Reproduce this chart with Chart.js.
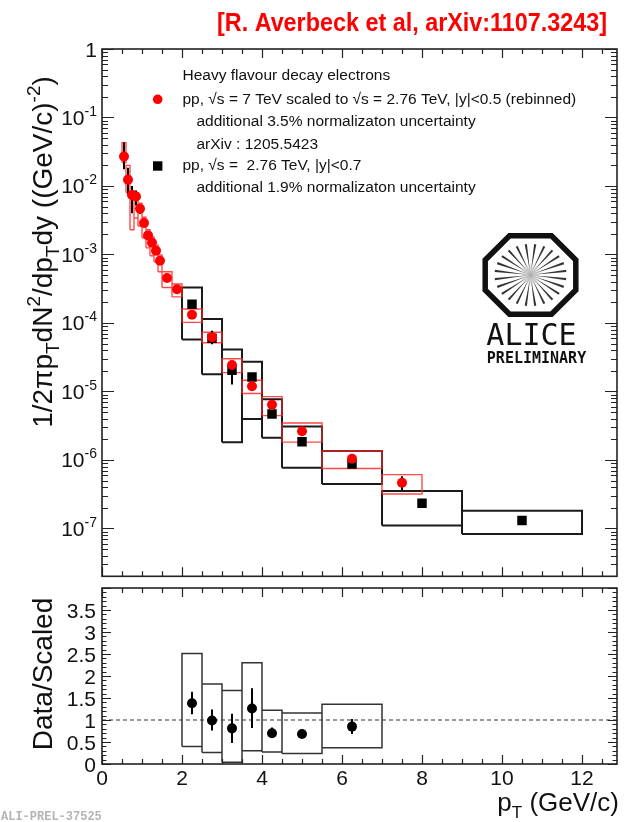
<!DOCTYPE html>
<html>
<head>
<meta charset="utf-8">
<script src="https://cdn.jsdelivr.net/npm/chart.js@4.4.1/dist/chart.umd.min.js"></script>
<style>
html, body { margin: 0; padding: 0; background: #fff; }
#wrap { position: relative; width: 624px; height: 822px; overflow: hidden; }
canvas { position: absolute; left: 0; }
#upper { top: 0; }
#lower { top: 583px; }
</style>
</head>
<body>
<div id="wrap">
  <canvas id="upper" width="624" height="583"></canvas>
  <canvas id="lower" width="624" height="239"></canvas>
</div>
<script>
// pp 7 TeV scaled to 2.76 TeV (red)
var ptRed    = [0.55,0.65,0.75,0.85,0.95,1.05,1.15,1.25,1.35,1.45,1.625,1.875,2.25,2.75,3.25,3.75,4.25,5.0,6.25,7.5];
var binLoRed = [0.5,0.6,0.7,0.8,0.9,1.0,1.1,1.2,1.3,1.4,1.5,1.75,2.0,2.5,3.0,3.5,4.0,4.5,5.5,7.0];
var binHiRed = [0.6,0.7,0.8,0.9,1.0,1.1,1.2,1.3,1.4,1.5,1.75,2.0,2.5,3.0,3.5,4.0,4.5,5.5,7.0,8.0];
var yieldRed = [2.69e-2,1.23e-2,7.4e-3,7.0e-3,4.64e-3,2.88e-3,1.90e-3,1.48e-3,1.13e-3,8.1e-4,4.54e-4,3.11e-4,1.32e-4,6.2e-5,2.44e-5,1.19e-5,6.4e-6,2.63e-6,1.04e-6,4.64e-7];
var statHiRed = [4.3e-2,1.85e-2,1.0e-2,8.6e-3,5.4e-3,3.3e-3,2.15e-3,1.65e-3,1.25e-3,8.9e-4,4.9e-4,3.3e-4,1.4e-4,6.6e-5,2.6e-5,1.27e-5,7.0e-6,2.85e-6,1.14e-6,5.8e-7];
var statLoRed = [1.76e-2,7.5e-3,4.0e-3,5.2e-3,3.9e-3,2.5e-3,1.68e-3,1.32e-3,1.02e-3,7.3e-4,4.2e-4,2.9e-4,1.24e-4,5.8e-5,2.3e-5,1.11e-5,5.8e-6,2.42e-6,9.5e-7,3.64e-7];
var sysHiRed = [4.3e-2,2.0e-2,8.5e-3,8.0e-3,5.6e-3,3.5e-3,2.3e-3,1.8e-3,1.37e-3,9.8e-4,5.6e-4,3.7e-4,1.60e-4,7.33e-5,3.0e-5,1.46e-5,8.4e-6,3.47e-6,1.35e-6,6.1e-7];
var sysLoRed = [2.2e-2,8.0e-3,2.3e-3,3.4e-3,2.6e-3,1.75e-3,1.25e-3,9.6e-4,7.8e-4,5.6e-4,3.3e-4,2.4e-4,1.02e-4,5.13e-5,1.88e-5,9.35e-6,4.44e-6,1.82e-6,7.5e-7,3.18e-7];

// pp 2.76 TeV (black)
var ptBlack    = [2.25,2.75,3.25,3.75,4.25,5.0,6.25,8.0,10.5];
var binLoBlack = [2.0,2.5,3.0,3.5,4.0,4.5,5.5,7.0,9.0];
var binHiBlack = [2.5,3.0,3.5,4.0,4.5,5.5,7.0,9.0,12.0];
var yieldBlack = [1.88e-4,6.0e-5,2.04e-5,1.63e-5,4.69e-6,1.84e-6,8.7e-7,2.33e-7,1.31e-7];
var statHiBlack = [2.0e-4,7.7e-5,2.46e-5,1.85e-5,5.0e-6,1.9e-6,9.0e-7,2.4e-7,1.35e-7];
var statLoBlack = [1.76e-4,4.9e-5,1.26e-5,1.45e-5,4.4e-6,1.78e-6,8.4e-7,2.26e-7,1.27e-7];
var sysHiBlack = [3.29e-4,1.14e-4,4.1e-5,2.72e-5,7.7e-6,3.08e-6,1.35e-6,3.52e-7,1.81e-7];
var sysLoBlack = [5.73e-5,1.78e-5,1.82e-6,3.97e-6,2.1e-6,7.7e-7,4.45e-7,1.10e-7,8.3e-8];

// ratio Data/Scaled
var ptRatio    = [2.25,2.75,3.25,3.75,4.25,5.0,6.25];
var binLoRatio = [2.0,2.5,3.0,3.5,4.0,4.5,5.5];
var binHiRatio = [2.5,3.0,3.5,4.0,4.5,5.5,7.0];
var ratio       = [1.38,0.99,0.81,1.26,0.70,0.68,0.85];
var statHiRatio = [1.64,1.24,1.14,1.72,0.83,0.72,1.02];
var statLoRatio = [1.13,0.76,0.48,0.82,0.59,0.64,0.68];
var sysHiRatio  = [2.51,1.82,1.67,2.30,1.22,1.16,1.36];
var sysLoRatio  = [0.40,0.26,0.04,0.30,0.27,0.24,0.37];

// axes
var xTicks = [0,2,4,6,8,10,12];
var xTickLabels = ['0','2','4','6','8','10','12'];
var yExponents = [0,-1,-2,-3,-4,-5,-6,-7];
var ratioTicks = [0,0.5,1,1.5,2,2.5,3,3.5];
var ratioTickLabels = ['0','0.5','1','1.5','2','2.5','3','3.5'];

var X_MAX = 12.875;
var FONT = '"Liberation Sans", Arial, Helvetica, sans-serif';

function boxPath(lo, hi, ylo, yhi) {
  var d = [];
  for (var i = 0; i < lo.length; i++) {
    d.push({x: lo[i], y: ylo[i]}, {x: lo[i], y: yhi[i]}, {x: hi[i], y: yhi[i]},
           {x: hi[i], y: ylo[i]}, {x: lo[i], y: ylo[i]}, {x: null, y: null});
  }
  return d;
}
function barPath(xv, ylo, yhi) {
  var d = [];
  for (var i = 0; i < xv.length; i++) {
    d.push({x: xv[i], y: ylo[i]}, {x: xv[i], y: yhi[i]}, {x: null, y: null});
  }
  return d;
}
function pts(xv, yv) {
  return xv.map(function(x, i) { return {x: x, y: yv[i]}; });
}

// text with sub/superscripts
function drawRich(ctx, parts, x, y, align) {
  var w = 0;
  parts.forEach(function(p) { ctx.font = p.s + 'px ' + FONT; w += ctx.measureText(p.t).width; });
  if (align === 'right') x -= w;
  if (align === 'center') x -= w / 2;
  ctx.textAlign = 'left';
  ctx.textBaseline = 'alphabetic';
  parts.forEach(function(p) {
    ctx.font = p.s + 'px ' + FONT;
    ctx.fillText(p.t, x, y + (p.dy || 0));
    x += ctx.measureText(p.t).width;
  });
  return w;
}

function frameAndXTicks(chart) {
  var ctx = chart.ctx, a = chart.chartArea, xs = chart.scales.x;
  ctx.strokeStyle = '#222';
  ctx.lineWidth = 1.2;
  ctx.beginPath();
  for (var v = 0; v <= X_MAX + 1e-9; v += 0.5) {
    var px = Math.round(xs.getPixelForValue(v)) + 0.5;
    var len = (Math.abs(v % 2) < 1e-9) ? 9 : 5;
    ctx.moveTo(px, a.bottom); ctx.lineTo(px, a.bottom - len);
    ctx.moveTo(px, a.top); ctx.lineTo(px, a.top + len);
  }
  ctx.stroke();
  ctx.lineWidth = 1.6;
  ctx.strokeRect(a.left, a.top, a.right - a.left, a.bottom - a.top);
}

function drawLogo(ctx, cx, cy) {
  ctx.save();
  ctx.translate(cx, cy);
  // rays
  ctx.fillStyle = '#333';
  for (var i = 0; i < 24; i++) {
    var t = (i + 0.5) / 24 * Math.PI * 2;
    var c = Math.cos(t), s = Math.sin(t);
    var rx = 36, ry = 31;
    var ox = c * rx, oy = s * ry;
    var nx = -s * 1.1, ny = c * 1.1;
    ctx.beginPath();
    ctx.moveTo(c * 4, s * 4);
    ctx.lineTo(ox + nx, oy + ny);
    ctx.lineTo(ox - nx, oy - ny);
    ctx.closePath();
    ctx.fill();
  }
  var g = ctx.createRadialGradient(0, 0, 0, 0, 0, 12);
  g.addColorStop(0, 'rgba(170,170,170,1)');
  g.addColorStop(1, 'rgba(170,170,170,0)');
  ctx.fillStyle = g;
  ctx.beginPath(); ctx.arc(0, 0, 12, 0, Math.PI * 2); ctx.fill();
  // octagon
  var hw = 45.3, hh = 39.2, ex = 21, ey = 15;
  var p = [[-ex,-hh],[ex,-hh],[hw,-ey],[hw,ey],[ex,hh],[-ex,hh],[-hw,ey],[-hw,-ey]];
  ctx.strokeStyle = '#111';
  ctx.lineWidth = 5.5;
  ctx.lineJoin = 'miter';
  ctx.beginPath();
  p.forEach(function(q, k) { if (k === 0) ctx.moveTo(q[0], q[1]); else ctx.lineTo(q[0], q[1]); });
  ctx.closePath();
  ctx.stroke();
  ctx.restore();
  ctx.fillStyle = '#111';
  ctx.textAlign = 'center';
  ctx.textBaseline = 'alphabetic';
  ctx.font = '30px "DejaVu Sans Mono", monospace';
  ctx.fillText('ALICE', cx + 1, cy + 70);
  ctx.font = 'bold 15px "DejaVu Sans Mono", monospace';
  ctx.fillText('PRELIMINARY', cx + 6, cy + 88);
}

var upperDecor = {
  id: 'upperDecor',
  afterDraw: function(chart) {
    var ctx = chart.ctx, a = chart.chartArea, ys = chart.scales.y;
    ctx.save();
    // log ticks on left and right
    ctx.strokeStyle = '#222';
    ctx.lineWidth = 1.2;
    ctx.beginPath();
    for (var e = -8; e <= 0; e++) {
      for (var m = 1; m <= 9; m++) {
        var v = m * Math.pow(10, e);
        if (v < ys.min * 0.999 || v > ys.max * 1.001) continue;
        var py = Math.round(ys.getPixelForValue(v)) + 0.5;
        var len = (m === 1) ? 12 : 6;
        ctx.moveTo(a.left, py); ctx.lineTo(a.left + len, py);
        ctx.moveTo(a.right, py); ctx.lineTo(a.right - len, py);
      }
    }
    ctx.stroke();
    frameAndXTicks(chart);

    // y tick labels
    ctx.fillStyle = '#111';
    yExponents.forEach(function(ex) {
      var py = ys.getPixelForValue(Math.pow(10, ex));
      var parts = ex === 0 ? [{t: '1', s: 21}] : [{t: '10', s: 21}, {t: String(ex), s: 14, dy: -9}];
      drawRich(ctx, parts, 97, py + 7.5, 'right');
    });

    // y title
    ctx.save();
    ctx.translate(52, 252);
    ctx.rotate(-Math.PI / 2);
    drawRich(ctx, [
      {t: '1/2\u03c0p', s: 28}, {t: 'T', s: 19, dy: 7}, {t: 'dN', s: 28}, {t: '2', s: 19, dy: -12},
      {t: '/dp', s: 28}, {t: 'T', s: 19, dy: 7}, {t: 'dy ((GeV/c)', s: 28}, {t: '-2', s: 19, dy: -12}, {t: ')', s: 28}
    ], 0, 0, 'center');
    ctx.restore();

    // title
    ctx.save();
    ctx.fillStyle = '#ff0000';
    ctx.font = 'bold 26px "Liberation Sans Narrow", "Liberation Sans", Arial, sans-serif';
    var txt = '[R. Averbeck et al, arXiv:1107.3243]';
    var w = ctx.measureText(txt).width;
    var sx = 390 / w;
    ctx.translate(217, 31);
    ctx.scale(sx, 1);
    ctx.textAlign = 'left';
    ctx.textBaseline = 'alphabetic';
    ctx.fillText(txt, 0, 0);
    ctx.restore();

    // legend
    ctx.fillStyle = '#111';
    ctx.textAlign = 'left';
    ctx.textBaseline = 'middle';
    ctx.font = '15.5px ' + FONT;
    ctx.fillText('Heavy flavour decay electrons', 182.5, 75.7);
    ctx.fillText('pp, \u221as = 7 TeV scaled to \u221as = 2.76 TeV, |y|<0.5 (rebinned)', 182.5, 99.3);
    ctx.fillText('additional 3.5% normalizaton uncertainty', 196.5, 121.7);
    ctx.fillText('arXiv : 1205.5423', 196.5, 144.3);
    ctx.fillText('pp, \u221as =  2.76 TeV, |y|<0.7', 182.5, 166);
    ctx.fillText('additional 1.9% normalizaton uncertainty', 196.5, 187.7);
    ctx.fillStyle = '#ff0000';
    ctx.beginPath(); ctx.arc(157.7, 99.3, 4.8, 0, Math.PI * 2); ctx.fill();
    ctx.fillStyle = '#000';
    ctx.fillRect(153, 161.3, 9.4, 9.4);

    drawLogo(ctx, 530.5, 275);
    ctx.restore();
  }
};

var lowerDecor = {
  id: 'lowerDecor',
  afterDraw: function(chart) {
    var ctx = chart.ctx, a = chart.chartArea, ys = chart.scales.y, xs = chart.scales.x;
    var off = 583;
    ctx.save();
    ctx.strokeStyle = '#222';
    ctx.lineWidth = 1.2;
    ctx.beginPath();
    for (var k = 0; k <= 40; k++) {
      var v = k * 0.1;
      if (v > ys.max + 1e-9) break;
      var py = Math.round(ys.getPixelForValue(v)) + 0.5;
      var len = (k % 5 === 0) ? 9 : 4.5;
      ctx.moveTo(a.left, py); ctx.lineTo(a.left + len, py);
      ctx.moveTo(a.right, py); ctx.lineTo(a.right - len, py);
    }
    ctx.stroke();
    frameAndXTicks(chart);

    ctx.fillStyle = '#111';
    ratioTicks.forEach(function(v, i) {
      drawRich(ctx, [{t: ratioTickLabels[i], s: 21}], 96, ys.getPixelForValue(v) + 7.5, 'right');
    });
    xTicks.forEach(function(v, i) {
      drawRich(ctx, [{t: xTickLabels[i], s: 21}], xs.getPixelForValue(v), 785 - off, 'center');
    });

    // y title
    ctx.save();
    ctx.translate(52, 674 - off);
    ctx.rotate(-Math.PI / 2);
    drawRich(ctx, [{t: 'Data/Scaled', s: 28}], 0, 0, 'center');
    ctx.restore();

    // x title
    drawRich(ctx, [{t: 'p', s: 26}, {t: 'T', s: 17, dy: 7}, {t: ' (GeV/c)', s: 26}], 619, 811 - off, 'right');

    // footer
    ctx.fillStyle = '#b4b4b4';
    ctx.font = 'bold 12px "Liberation Mono", "DejaVu Sans Mono", monospace';
    ctx.textAlign = 'left';
    ctx.textBaseline = 'alphabetic';
    ctx.fillText('ALI-PREL-37525', 1, 820 - off);
    ctx.restore();
  }
};

var common = {
  responsive: false,
  animation: false,
  devicePixelRatio: 1,
  events: [],
  plugins: { legend: { display: false }, tooltip: { enabled: false } }
};

new Chart(document.getElementById('upper'), {
  type: 'scatter',
  data: {
    datasets: [
      { label: 'red markers', data: pts(ptRed, yieldRed), pointStyle: 'circle', pointRadius: 5,
        backgroundColor: '#ff0000', borderWidth: 0, order: 1 },
      { label: 'black markers', data: pts(ptBlack, yieldBlack), pointStyle: 'rect', pointRadius: 6.7,
        backgroundColor: '#000', borderWidth: 0, order: 2 },
      { label: 'red stat', data: barPath(ptRed, statLoRed, statHiRed), showLine: true, pointRadius: 0,
        borderColor: '#000', borderWidth: 2, order: 3 },
      { label: 'black stat', data: barPath(ptBlack, statLoBlack, statHiBlack), showLine: true, pointRadius: 0,
        borderColor: '#000', borderWidth: 2, order: 3 },
      { label: 'red sys', data: boxPath(binLoRed, binHiRed, sysLoRed, sysHiRed), showLine: true, pointRadius: 0,
        borderColor: 'rgba(255,40,40,0.85)', borderWidth: 1.4, order: 4 },
      { label: 'black sys', data: boxPath(binLoBlack, binHiBlack, sysLoBlack, sysHiBlack), showLine: true, pointRadius: 0,
        borderColor: '#1a1a1a', borderWidth: 2, order: 5 }
    ]
  },
  options: Object.assign({}, common, {
    layout: { padding: { left: 102, right: 7, top: 49, bottom: 3 } },
    scales: {
      x: { type: 'linear', min: 0, max: X_MAX, display: false },
      y: { type: 'logarithmic', min: 2e-8, max: 1, display: false }
    }
  }),
  plugins: [upperDecor]
});

new Chart(document.getElementById('lower'), {
  type: 'scatter',
  data: {
    datasets: [
      { label: 'ratio', data: pts(ptRatio, ratio), pointStyle: 'circle', pointRadius: 5,
        backgroundColor: '#000', borderWidth: 0, order: 1 },
      { label: 'ratio stat', data: barPath(ptRatio, statLoRatio, statHiRatio), showLine: true, pointRadius: 0,
        borderColor: '#000', borderWidth: 2, order: 2 },
      { label: 'ratio sys', data: boxPath(binLoRatio, binHiRatio, sysLoRatio, sysHiRatio), showLine: true, pointRadius: 0,
        borderColor: '#333', borderWidth: 1.5, order: 3 },
      { label: 'unity', data: [{x: 0, y: 1}, {x: X_MAX, y: 1}], showLine: true, pointRadius: 0,
        borderColor: '#333', borderWidth: 1.2, borderDash: [4, 3], order: 4 }
    ]
  },
  options: Object.assign({}, common, {
    layout: { padding: { left: 102, right: 7, top: 2, bottom: 58 } },
    scales: {
      x: { type: 'linear', min: 0, max: X_MAX, display: false },
      y: { type: 'linear', min: 0, max: 4, display: false }
    }
  }),
  plugins: [lowerDecor]
});
</script>
</body>
</html>
